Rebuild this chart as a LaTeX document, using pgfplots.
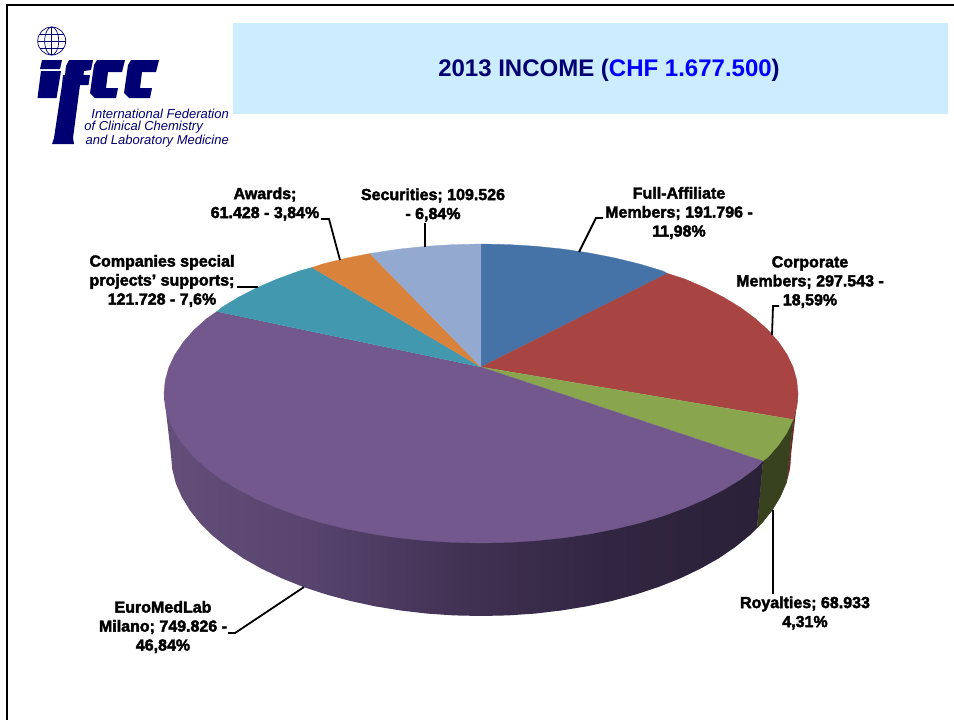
\documentclass[border=0pt]{standalone}
\usepackage{fontspec}
\setmainfont[BoldFeatures={FakeBold=2.4}]{Liberation Sans}
\newfontfamily\titlefont{Liberation Sans}
\usepackage{pgfplots}
\pgfplotsset{compat=1.18}

\definecolor{ifccnavy}{HTML}{000072}
\definecolor{band}{HTML}{CCECFF}
\definecolor{sliceblue}{HTML}{4572A7}
\definecolor{slicered}{HTML}{A84543}
\definecolor{slicegreen}{HTML}{89A54E}
\definecolor{slicepurple}{HTML}{72588C}
\definecolor{sliceteal}{HTML}{4198AF}
\definecolor{sliceorange}{HTML}{D9823C}
\definecolor{sliceperi}{HTML}{93A9CF}
\definecolor{sideolive}{HTML}{38421E}
\definecolor{sidered}{HTML}{6E2A2A}
% side of the big slice gets darker to the right
\pgfdeclarehorizontalshading{purpleside}{100bp}{
  rgb(0bp)=(0.392,0.306,0.478);
  rgb(25bp)=(0.392,0.306,0.478);
  rgb(37bp)=(0.345,0.267,0.435);
  rgb(50bp)=(0.255,0.192,0.325);
  rgb(62bp)=(0.196,0.145,0.259);
  rgb(75bp)=(0.165,0.129,0.216);
  rgb(100bp)=(0.165,0.129,0.216)}

\pgfplotsset{
  slice/.style={fill=#1, draw=#1, line width=0.3pt},
  leader/.style={black, line width=1.8pt},
  logo/.style={fill=ifccnavy, draw=none},
}
\tikzset{lab/.style={inner sep=0pt, align=center, font=\fontsize{16}{19}\selectfont\bfseries}}

\begin{document}
\begin{tikzpicture}
\begin{axis}[
  scale only axis,
  width=954pt, height=720pt,
  xmin=0, xmax=954, ymin=0, ymax=720,
  y dir=reverse,
  hide axis,
]
% page and frame
\addplot[fill=white, draw=none] coordinates {(0,0) (954,0) (954,720) (0,720)};
\addplot[black, line width=2pt] coordinates {(7,720) (7,5) (954,5)};
% title band
\addplot[fill=band, draw=none] coordinates {(233,23) (948,23) (948,114) (233,114)};

% logo
\addplot[logo] coordinates {(42,60) (62,60) (60,69) (40,69)};
\addplot[logo] coordinates {(41,71) (61,71) (56.5,98) (37.5,98)};
\addplot[logo] coordinates {(69,60) (93,60) (91,70) (84,71) (83.5,75) (90,75) (88.5,85) (80,85) (73,138) (74,144) (52,144) (54,138) (60,98) (62,85) (63,75) (65,75) (66,66)};
\addplot[logo] coordinates {(97,60) (125,60) (122,72) (108,72) (106,88) (118,88) (116,98) (95,98) (90,93) (94,65)};
\addplot[logo] coordinates {(131,60) (159,60) (156,72) (142,72) (140,88) (152,88) (150,98) (129,98) (124,93) (128,65)};
\addplot[ifccnavy, line width=0.7pt] coordinates {(51.7,27) (51.7,55)};
\addplot[ifccnavy, line width=0.7pt] coordinates {(39.5,34) (64,34)};
\addplot[ifccnavy, line width=0.7pt] coordinates {(37.7,41) (65.7,41)};
\addplot[ifccnavy, line width=0.7pt] coordinates {(39.5,48) (64,48)};
\draw[ifccnavy, line width=0.7pt] (axis cs:51.7,41) circle[radius=14pt];
\draw[ifccnavy, line width=0.7pt] (axis cs:51.7,41) ellipse[x radius=7pt, y radius=14pt];

% lower rim and sides
\addplot[slice=sidered] coordinates {(798,393.5) (796.8,406.5) (793.2,419.5) (786.3,483) (789.8,469) (791,455)};
\addplot[slice=sideolive] coordinates {(763,461) (757,528) (762,523) (772.3,510.1) (780.4,496.7) (786.3,483) (793.2,419.5)};
\addplot[draw=none, shading=purpleside, shading angle=0] coordinates {
  (763,461) (757,528) (749.5,535.5) (734.9,547.3) (718.5,558.5) (700.2,568.8) (680.3,578.3) (658.8,586.9)
  (636,594.4) (612,600.9) (587,606.3) (561.2,610.5) (534.8,613.6) (508,615.4) (481,616)
  (454,615.4) (427.2,613.6) (400.8,610.5) (375,606.3) (350,600.9) (326,594.4) (303.2,586.9)
  (281.7,578.3) (261.8,568.8) (243.5,558.5) (227.1,547.3) (212.5,535.5) (200,523) (189.7,510.1)
  (181.6,496.7) (175.7,483) (172.2,469) (171,455) (164,393.5)};

% top face, clockwise from twelve o'clock
% Full-Affiliate Members 191.796
\addplot[slice=sliceblue] coordinates {(481,367) (481,244) (508.6,244.6) (536,246.3) (563,249.1) (589.4,253) (615,258) (639.5,264) (662.8,271) (667.5,273.5)};
% Corporate Members 297.543
\addplot[slice=slicered] coordinates {(481,367) (667.5,273.5) (684.8,279) (705.2,287.8) (723.8,297.4) (740.7,307.7) (755.5,318.7) (768.3,330.3) (778.9,342.4) (787.2,354.8) (793.2,367.5) (796.8,380.5) (798,393.5) (796.8,406.5) (793.2,419.5)};
% Royalties 68.933
\addplot[slice=slicegreen] coordinates {(481,367) (793.2,419.5) (787.2,432.2) (778.9,444.6) (768.3,456.8) (763,461)};
% EuroMedLab Milano 749.826
\addplot[slice=slicepurple] coordinates {(481,367) (763,461) (755.5,468.3) (740.7,479.3) (723.8,489.6) (705.2,499.2) (684.8,508) (662.8,516) (639.5,523) (615,529) (589.4,534) (563,537.9) (536,540.7) (508.6,542.4) (481,543)
  (453.4,542.4) (426,540.7) (399,537.9) (372.6,534) (347,529) (322.5,523) (299.2,516) (277.2,508) (256.8,499.2) (238.2,489.6) (221.3,479.3) (206.5,468.3) (193.7,456.8) (183.1,444.6) (174.8,432.2) (168.8,419.5) (165.2,406.5) (164,393.5) (165.2,380.5) (168.8,367.5) (174.8,354.8) (183.1,342.4) (193.7,330.3) (206.5,318.7) (217,311.5)};
% Companies special projects' supports 121.728
\addplot[slice=sliceteal] coordinates {(481,367) (217,311.5) (221.3,307.7) (238.2,297.4) (256.8,287.8) (277.2,279) (299.2,271) (312,267.5)};
% Awards 61.428
\addplot[slice=sliceorange] coordinates {(481,367) (312,267.5) (322.5,264) (347,258) (370,253.5)};
% Securities 109.526
\addplot[slice=sliceperi] coordinates {(481,367) (370,253.5) (399,249.1) (426,246.3) (453.4,244.6) (481,244)};

% leaders
\addplot[leader] coordinates {(579,252) (596,218) (603,218)};
\addplot[leader] coordinates {(772,335) (773,306) (779,306)};
\addplot[leader] coordinates {(340,260) (329,219) (321,219)};
\addplot[leader] coordinates {(425,247) (425,223)};
\addplot[leader] coordinates {(258,287) (250,287) (237,287)};
\addplot[leader] coordinates {(773,510) (773,594)};
\addplot[leader] coordinates {(304,587) (235,633) (228,633)};

% texts
\node[inner sep=0pt] at (axis cs:609,70) {\fontsize{24}{28}\selectfont\titlefont\bfseries\textcolor{ifccnavy}{2013 INCOME (}\textcolor{blue}{CHF 1.677.500}\textcolor{ifccnavy}{)}};
\node[inner sep=0pt, anchor=east, text=ifccnavy] at (axis cs:229,114) {\fontsize{13}{15}\selectfont\itshape International Federation};
\node[inner sep=0pt, anchor=east, text=ifccnavy] at (axis cs:203,127) {\fontsize{13}{15}\selectfont\itshape of Clinical Chemistry};
\node[inner sep=0pt, anchor=east, text=ifccnavy] at (axis cs:229,141) {\fontsize{13}{15}\selectfont\itshape and Laboratory Medicine};

\node[lab] at (axis cs:679,213) {Full-Affiliate\\Members; 191.796 -\\11,98\%};
\node[lab] at (axis cs:810,282) {Corporate\\Members; 297.543 -\\18,59\%};
\node[lab] at (axis cs:805,613) {Royalties; 68.933\\4,31\%};
\node[lab] at (axis cs:163,627) {EuroMedLab\\Milano; 749.826 -\\46,84\%};
\node[lab] at (axis cs:162,281) {Companies special\\projects' supports;\\121.728 - 7,6\%};
\node[lab] at (axis cs:265,204) {Awards;\\61.428 - 3,84\%};
\node[lab] at (axis cs:433,205) {Securities; 109.526\\- 6,84\%};
\end{axis}
\end{tikzpicture}
\end{document}
